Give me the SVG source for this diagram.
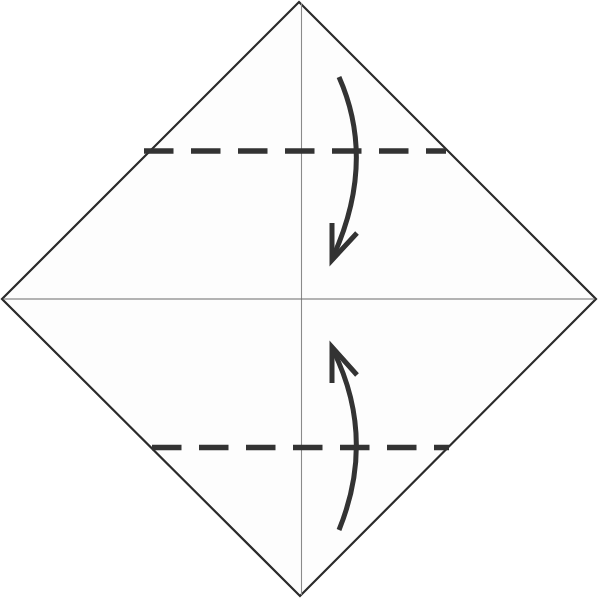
<svg xmlns="http://www.w3.org/2000/svg" width="598" height="598" viewBox="0 0 598 598">
<style>
.paper{fill:#fdfdfd;stroke:#2b2b2b;stroke-width:2.2;stroke-linejoin:miter}
.crease{stroke:#6a6a6a;stroke-width:1.1;fill:none}
.valley{stroke:#333333;stroke-width:5.5;stroke-dasharray:29.5 17.5;fill:none}
.arrow{stroke:#333333;stroke-width:5;fill:none;stroke-linecap:butt;stroke-linejoin:miter}
</style>
<rect width="598" height="598" fill="#ffffff"/>
<g id="paper">
<polygon class="paper" points="299,2 596,299 300,596 2,299"/>
</g>
<g id="creases">
<line class="crease" x1="301.5" y1="3" x2="301.5" y2="595" style="stroke:#8a8a8a"/>
<line class="crease" x1="3" y1="299" x2="595" y2="299"/>
</g>
<g id="connectors">
<line class="valley" x1="144" y1="151" x2="446" y2="151"/>
<line class="valley" x1="152" y1="447.5" x2="449" y2="447.5"/>
<path class="arrow" d="M339,77 Q376.5,161.5 333,257"/>
<path class="arrow" d="M332,223 L332,260 L357,233"/>
<path class="arrow" d="M339,530 Q376.5,437.5 333,350"/>
<path class="arrow" d="M332,383 L332,347 L357,375"/>
</g>
</svg>
